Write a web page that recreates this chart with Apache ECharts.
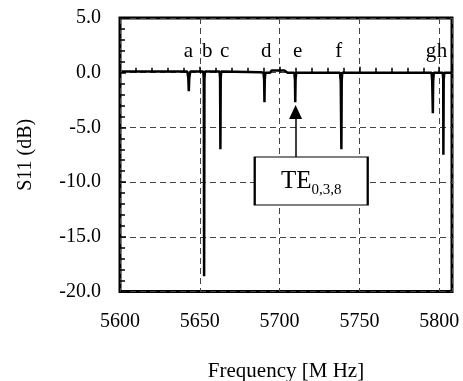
<!DOCTYPE html>
<html>
<head>
<meta charset="utf-8">
<script src="https://cdn.jsdelivr.net/npm/echarts@6/dist/echarts.min.js"></script>
<style>
  html, body { margin: 0; padding: 0; background: #fff; }
  #chart { width: 463px; height: 381px; }
</style>
</head>
<body>
<div id="chart"></div>
<script>
// measured S11 sweep (MHz, dB)
const freq = [
  5601,
  5642.2, 5642.8, 5643.1, 5643.4, 5644,
  5652.2, 5652.5, 5652.7, 5652.9, 5653.2,
  5662.4, 5662.7, 5662.9, 5663.1, 5663.4,
  5688,
  5689.9, 5690.3, 5690.5, 5690.7, 5691.1,
  5694, 5695, 5703, 5705,
  5709.2, 5709.6, 5709.8, 5710.0, 5710.4,
  5737.8, 5738.3, 5738.7, 5738.9, 5739.2,
  5795.2, 5795.6, 5796.0, 5796.2, 5796.6,
  5802.2, 5802.5, 5802.6, 5802.8, 5803.2,
  5808
]
const s11 = [
  0.1,
  0.1, -0.5, -1.7, -0.5, 0.1,
  0.1, -0.6, -18.6, -0.6, 0.1,
  0.1, -0.5, -7.0, -0.5, 0.1,
  0.05,
  0.0, -0.6, -2.7, -0.6, 0.0,
  0.0, 0.2, 0.2, 0.0,
  0.0, -0.6, -2.7, -0.6, 0.0,
  0.0, -0.8, -7.0, -0.8, 0.0,
  0.0, -0.8, -3.7, -0.8, 0.0,
  0.0, -0.6, -7.5, -0.6, 0.0,
  0.0
]

// mode letters above the resonances
const modeNames = ["a", "b", "c", "d", "e", "f", "g", "h"]
const modeFreq = [5642.8, 5654.6, 5665.6, 5691.6, 5711.3, 5737, 5794.9, 5801.8]
const modeLabelY = 1.9

// TE mode annotation
const teFreq = 5710
const teTip = -3.6
const teBase = -7.75
const teBoxCenter = [5719.8, -9.9]

const xTicks = [5600, 5650, 5700, 5750, 5800]

const font = "Liberation Serif"
const chart = echarts.init(document.getElementById("chart"))

const lineData = freq.map((f, i) => [f, s11[i]])
const modeData = modeFreq.map((f, i) => ({ value: [f, modeLabelY], name: modeNames[i] }))

chart.setOption({
  animation: false,
  grid: {
    left: 120,
    right: 11,
    top: 18,
    bottom: 89.5,
    outerBoundsMode: "none",
    show: true,
    borderColor: "#000",
    borderWidth: 3,
  },
  xAxis: {
    type: "value",
    min: 5600,
    max: 5808,
    interval: 50,
    name: "Frequency [M Hz]",
    nameLocation: "middle",
    nameGap: 69,
    nameTextStyle: { fontFamily: font, fontSize: 21, color: "#000" },
    axisLine: { show: false },
    axisTick: { show: true, inside: true, length: 6, lineStyle: { color: "#000", width: 1.5 } },
    minorTick: { show: true, splitNumber: 5, length: 5, lineStyle: { color: "#000", width: 1.5 } },
    axisLabel: {
      fontFamily: font,
      fontSize: 20,
      color: "#000",
      margin: 20,
      showMaxLabel: false,
      formatter: v => (xTicks.includes(v) ? String(v) : ""),
    },
    splitLine: { show: true, lineStyle: { color: "#444", type: [6, 4], width: 1 } },
  },
  yAxis: {
    type: "value",
    min: -20,
    max: 5,
    interval: 5,
    name: "S11 (dB)",
    nameLocation: "middle",
    nameGap: 84,
    nameTextStyle: { fontFamily: font, fontSize: 20, color: "#000" },
    axisLine: { show: false },
    axisTick: { show: true, inside: true, length: 6, lineStyle: { color: "#000", width: 1.5 } },
    minorTick: { show: true, splitNumber: 5, length: 5, lineStyle: { color: "#000", width: 1.5 } },
    axisLabel: {
      fontFamily: font,
      fontSize: 20,
      color: "#000",
      margin: 19,
      formatter: v => v.toFixed(1),
    },
    splitLine: { show: true, lineStyle: { color: "#444", type: [6, 4], width: 1 } },
  },
  series: [
    {
      type: "line",
      data: lineData,
      symbol: "none",
      lineStyle: { color: "#000", width: 2.5 },
      z: 3,
      markLine: {
        silent: true,
        symbol: ["none", "triangle"],
        symbolSize: [13, 14],
        label: { show: false },
        lineStyle: { color: "#000", width: 1.5, type: "solid" },
        data: [[{ coord: [teFreq, teBase] }, { coord: [teFreq, teTip] }]],
      },
      markPoint: {
        silent: true,
        symbol: "rect",
        symbolSize: [113, 48],
        itemStyle: { color: "#fff", borderColor: "#000", borderWidth: 1.5 },
        label: {
          show: true,
          position: "inside",
          formatter: "{te|TE}{sub|0,3,8}",
          rich: {
            te: { fontFamily: font, fontSize: 25, color: "#000", verticalAlign: "bottom" },
            sub: { fontFamily: font, fontSize: 15, color: "#000", verticalAlign: "bottom", padding: [0, 0, -4, 0] },
          },
        },
        data: [{ coord: teBoxCenter }],
      },
    },
    {
      type: "scatter",
      data: modeData,
      symbol: "circle",
      symbolSize: 1,
      silent: true,
      itemStyle: { opacity: 1, color: "rgba(0,0,0,0)" },
      label: {
        show: true,
        position: "inside",
        formatter: p => p.name,
        fontFamily: font,
        fontSize: 21,
        color: "#000",
        textBorderWidth: 0,
      },
      z: 4,
    },
  ],
})
</script>
</body>
</html>
